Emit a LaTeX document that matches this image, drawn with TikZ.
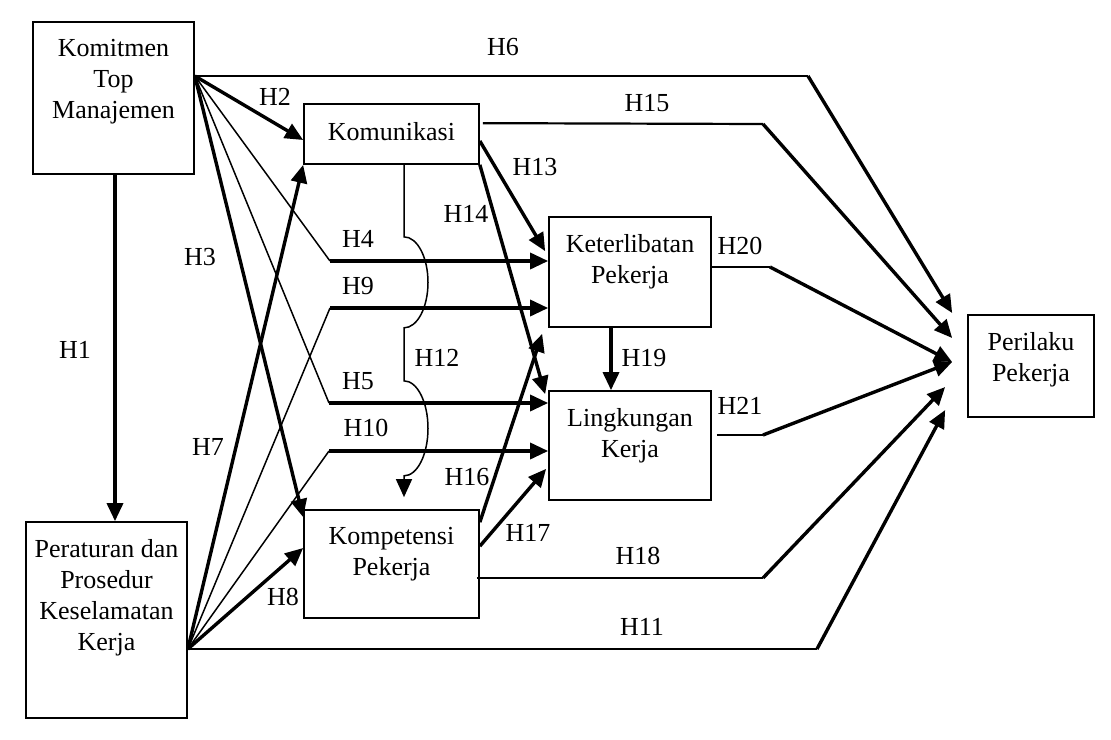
\documentclass[tikz,border=0pt]{standalone}
\usepackage{fontspec}
\setmainfont{Liberation Serif}
\usetikzlibrary{arrows.meta,positioning}

\begin{document}
\begin{tikzpicture}[x=1pt,y=-1pt,
  box/.style={draw,line width=1.7pt,inner sep=0pt},
  boxtext/.style={align=center,inner sep=0pt,font=\fontsize{26}{31}\selectfont},
  hyp/.style={inner sep=0pt,font=\fontsize{26}{31}\selectfont},
  lean/.style={line width=1.5pt},
  mid/.style={line width=2.2pt},
  tip/.style={-{Triangle[length=18pt,width=16pt]}},
  arr/.style={line width=3.4pt,tip}]
\useasboundingbox (0,0) rectangle (1111,739);

% variables
\node[box,minimum width=161pt,minimum height=152pt] (ktm) at (113.5,98) {};
\node[boxtext,below=18pt of ktm.north] (ktmtext) {Komitmen\\Top\\Manajemen};
\node[box,minimum width=161pt,minimum height=196pt] (ppk) at (106.5,620) {};
\node[boxtext,below=18pt of ppk.north] (ppktext) {Peraturan dan\\Prosedur\\Keselamatan\\Kerja};
\node[box,minimum width=175pt,minimum height=60pt] (kom) at (391.5,134) {};
\node[boxtext,below=19pt of kom.north] (komtext) {Komunikasi};
\node[box,minimum width=175pt,minimum height=108pt] (kmp) at (391.5,564) {};
\node[boxtext,below=18pt of kmp.north] (kmptext) {Kompetensi\\Pekerja};
\node[box,minimum width=162pt,minimum height=110pt] (ket) at (630,272) {};
\node[boxtext,below=18pt of ket.north] (kettext) {Keterlibatan\\Pekerja};
\node[box,minimum width=162pt,minimum height=109pt] (lin) at (630,445.5) {};
\node[boxtext,below=18pt of lin.north] (lintext) {Lingkungan\\Kerja};
\node[box,minimum width=126pt,minimum height=102pt] (per) at (1031,366) {};
\node[boxtext,below=18pt of per.north] (pertext) {Perilaku\\Pekerja};

% fan origins and bends
\coordinate (ka) at ([yshift=22pt]ktm.east);
\coordinate (pa) at ([yshift=-29pt]ppk.east);
\coordinate (h4b) at (330,261);
\coordinate (h5b) at (329,403);
\coordinate (h9b) at (330,308);
\coordinate (h10b) at (329,451);
\coordinate (h6b) at (808,76);
\coordinate (h15b) at (763,124);
\coordinate (h18b) at (763,578);
\coordinate (h11b) at (817,649);
\coordinate (h20b) at (770,267);
\coordinate (h21b) at (763,435);

% paths from Komitmen Top Manajemen
\draw[arr] ([xshift=1.5pt]ktm.south) -- ([xshift=8.5pt]ppk.north);
\draw[arr] (ka) -- ([yshift=-6pt]kom.west);
\draw[arr] (ka) -- ([yshift=-8pt]kmp.north west);
\draw[lean] (ka) -- (h4b);
\draw[arr] (h4b) -- (h4b -| ket.west);
\draw[lean] (ka) -- (h5b);
\draw[arr] (h5b) -- (h5b -| lin.west);
\draw[mid] (ka) -- (h6b);
\draw[arr] (h6b) -- ([xshift=-15pt,yshift=53pt]per.west);

% paths from Peraturan dan Prosedur
\draw[arr] (pa) -- (kom.south west);
\draw[arr] (pa) -- ([yshift=16pt]kmp.west);
\draw[lean] (pa) -- (h9b);
\draw[arr] (h9b) -- (h9b -| ket.west);
\draw[lean] (pa) -- (h10b);
\draw[arr] (h10b) -- (h10b -| lin.west);
\draw[lean] (pa) -- (h11b);
\draw[arr] (h11b) -- ([xshift=-22pt,yshift=-44pt]per.west);

% paths from Komunikasi
\draw[lean,tip,shorten >=12pt] ([xshift=12.5pt]kom.south) -- ++(0,72)
  arc[start angle=-90,end angle=90,x radius=24,y radius=45.5] -- ++(0,53)
  arc[start angle=-90,end angle=90,x radius=24,y radius=47.5] -- ([xshift=12.5pt]kmp.north);
\draw[arr] ([yshift=-7pt]kom.east) -- ([xshift=-3pt,yshift=-35pt]ket.north west);
\draw[arr] (kom.south east) -- ([xshift=-3pt,yshift=-4pt]lin.north west);
\draw[mid] ([xshift=3pt,yshift=-20pt]kom.north east) -- (h15b);
\draw[arr] (h15b) -- ([xshift=-15pt,yshift=28pt]per.west);

% paths from Kompetensi Pekerja
\draw[arr] ([yshift=-13pt]kmp.north east) -- ([xshift=-6pt,yshift=-6pt]ket.south west);
\draw[arr] ([yshift=-37pt]kmp.north east) -- ([xshift=-2pt,yshift=32pt]lin.south west);
\draw[lean] ([xshift=-3pt,yshift=-14pt]kmp.east) -- (h18b);
\draw[arr] (h18b) -- ([xshift=-22pt,yshift=-21pt]per.west);

% paths to Perilaku Pekerja
\draw[arr] ([xshift=-19pt]ket.south) -- ([xshift=-19pt]lin.north);
\draw[lean] ([yshift=5pt]ket.east) -- (h20b);
\draw[arr] (h20b) -- ([xshift=-15pt,yshift=4pt]per.west);
\draw[lean] ([xshift=5pt,yshift=10.5pt]lin.east) -- (h21b);
\draw[arr] (h21b) -- ([xshift=-15pt,yshift=4pt]per.west);

% hypothesis labels
\node[hyp] (h1) at (75,350) {H1};
\node[hyp] (h2) at (275,97) {H2};
\node[hyp] (h3) at (200,257) {H3};
\node[hyp] (h4) at (358,239) {H4};
\node[hyp] (h5) at (358,381) {H5};
\node[hyp] (h6) at (503,47) {H6};
\node[hyp] (h7) at (208,447) {H7};
\node[hyp] (h8) at (283,597) {H8};
\node[hyp] (h9) at (358,286) {H9};
\node[hyp] (h10) at (366,428) {H10};
\node[hyp] (h11) at (642,627) {H11};
\node[hyp] (h12) at (437,358) {H12};
\node[hyp] (h13) at (535,167) {H13};
\node[hyp] (h14) at (466,214) {H14};
\node[hyp] (h15) at (647,103) {H15};
\node[hyp] (h16) at (467,477) {H16};
\node[hyp] (h17) at (528,533) {H17};
\node[hyp] (h18) at (638,556) {H18};
\node[hyp] (h19) at (644,358) {H19};
\node[hyp] (h20) at (740,246) {H20};
\node[hyp] (h21) at (740,406) {H21};
\end{tikzpicture}
\end{document}
